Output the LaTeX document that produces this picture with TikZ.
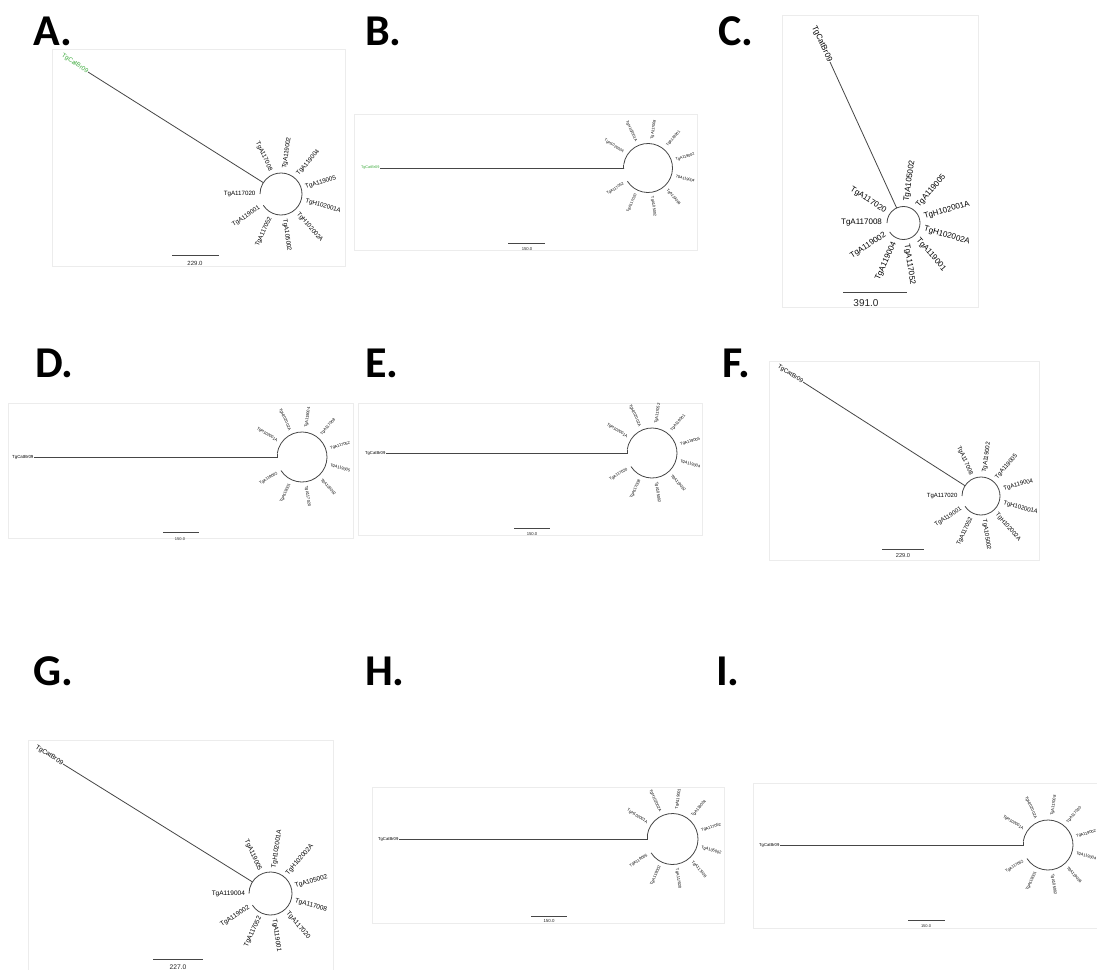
\documentclass[tikz,border=0pt]{standalone}
\usepackage{fontspec}
\setmainfont{Liberation Sans}
\newfontfamily\letterfont{Carlito}
\usetikzlibrary{calc}
\definecolor{ogreen}{RGB}{60,170,60}
\definecolor{framegray}{RGB}{236,236,236}
\definecolor{branchgray}{RGB}{70,70,70}
\tikzset{
  panellabel/.style={anchor=base west, inner sep=0pt, font=\letterfont\bfseries\fontsize{44}{44}\selectfont},
  framebox/.style={draw=framegray, line width=0.6pt},
  branchline/.style={draw=branchgray, line width=0.8pt},
  taxon/.style={inner sep=0.4pt, text=black},
  scaletext/.style={inner sep=0pt, text=black!85},
}
% #1 id, #2 cx, #3 cy, #4 r, #5 theta0, #6 label radius, #7 font size, #8 arc end angle, #9 names
\newcommand{\radtree}[9]{%
  \coordinate (#1c) at (#2,#3);
  \coordinate (#1j) at ($(#1c)+(#5:#4)$);
  \draw[branchline] ($(#1c)+(-147.27:#4)$) arc[start angle=-147.27, end angle=#8, radius=#4];
  \foreach \nm [count=\k] in {#9} {%
    \pgfmathsetmacro\ang{#5-\k*32.727}%
    \pgfmathsetmacro\rot{\ang+180}%
    \pgfmathparse{cos(\ang)<0 ? 1 : 0}%
    \ifnum\pgfmathresult=1
      \node[taxon, font=\fontsize{#7}{#7}\selectfont, anchor=east, rotate=\rot] (#1t\k) at ($(#1c)+(\ang:#6)$) {\nm};
    \else
      \node[taxon, font=\fontsize{#7}{#7}\selectfont, anchor=west, rotate=\ang] (#1t\k) at ($(#1c)+(\ang:#6)$) {\nm};
    \fi
  }%
}
\begin{document}
\begin{tikzpicture}[x=1pt,y=1pt]
\useasboundingbox[fill=white] (0,0) rectangle (1097,-969);

% ---------- panel letters
\node[panellabel] (LA) at (33,-45) {A.};
\node[panellabel] (LB) at (365,-45) {B.};
\node[panellabel] (LC) at (718,-45) {C.};
\node[panellabel] (LD) at (35,-377) {D.};
\node[panellabel] (LE) at (365,-377) {E.};
\node[panellabel] (LF) at (722,-377) {F.};
\node[panellabel] (LG) at (33,-685) {G.};
\node[panellabel] (LH) at (365,-685) {H.};
\node[panellabel] (LI) at (716,-685) {I.};

% ---------- frames
\draw[framebox] (52,-49) rectangle (345,-266);
\draw[framebox] (354,-114) rectangle (697,-250);
\draw[framebox] (782,-15) rectangle (978,-307);
\draw[framebox] (8,-403) rectangle (353,-538);
\draw[framebox] (358,-403) rectangle (702,-535);
\draw[framebox] (769,-361) rectangle (1039,-560);
\draw[framebox] (28,-740) rectangle (333,-975);
\draw[framebox] (372,-787) rectangle (724,-923);
\draw[framebox] (753,-783) rectangle (1100,-928);

% ---------- A
\radtree{A}{281}{-194}{21}{147.27}{25}{6.2}{180}{TgA117008,TgA119002,TgA119004,TgA119005,TgH102001A,TgH102002A,TgA105002,TgA117052,TgA119001,TgA117020}
\coordinate (Atip) at (88,-72);
\node[taxon, text=ogreen, font=\fontsize{6.2}{6.2}\selectfont, anchor=east, rotate=-32.73] (Aog) at (Atip) {TgCatBr09};
\draw[branchline] (Atip) -- (Aj);
\coordinate (Asl) at (172,-255); \coordinate (Asr) at (219,-255);
\draw[branchline] (Asl) -- (Asr);
\node[scaletext, font=\fontsize{6}{6}\selectfont] (Ast) at (195,-263) {229.0};

% ---------- B
\radtree{B}{648}{-168}{24.5}{180}{28.5}{3.8}{172}{TgH102002A,TgH102001A,TgA117008,TgA119001,TgA119002,TgA119004,TgA119005,TgA105002,TgA117020,TgA117052}
\coordinate (Btip) at (380,-168);
\node[taxon, text=ogreen, font=\fontsize{3.8}{3.8}\selectfont, anchor=east] (Bog) at (Btip) {TgCatBr09};
\draw[branchline] (Btip) -- (Bj);
\draw[branchline] ($(Bc)+(172:24.5)$) |- (Bj);
\coordinate (Bsl) at (508,-243); \coordinate (Bsr) at (545,-243);
\draw[branchline] (Bsl) -- (Bsr);
\node[scaletext, font=\fontsize{4.2}{4.2}\selectfont] (Bst) at (527,-249) {150.0};

% ---------- C
\radtree{C}{903.5}{-223}{16.5}{114.55}{21}{8}{180}{TgA105002,TgA119005,TgH102001A,TgH102002A,TgA119001,TgA117052,TgA119004,TgA119002,TgA117008,TgA117020}
\coordinate (Ctip) at (830,-62);
\node[taxon, font=\fontsize{8}{8}\selectfont, anchor=east, rotate=-65.45] (Cog) at (Ctip) {TgCatBr09};
\draw[branchline] (Ctip) -- (Cj);
\coordinate (Csl) at (843,-292); \coordinate (Csr) at (907,-292);
\draw[branchline] (Csl) -- (Csr);
\node[scaletext, font=\fontsize{10}{10}\selectfont] (Cst) at (866,-303) {391.0};

% ---------- D
\radtree{D}{302}{-457}{25}{180}{29}{4}{172}{TgH102001A,TgH102002A,TgA119004,TgA117008,TgA117052,TgA119005,TgA105002,TgA117020,TgA119001,TgA119002}
\coordinate (Dtip) at (34,-457);
\node[taxon, font=\fontsize{4.4}{4.4}\selectfont, anchor=east] (Dog) at (Dtip) {TgCatBr09};
\draw[branchline] (Dtip) -- (Dj);
\draw[branchline] ($(Dc)+(172:25)$) |- (Dj);
\coordinate (Dsl) at (163,-532); \coordinate (Dsr) at (199,-532);
\draw[branchline] (Dsl) -- (Dsr);
\node[scaletext, font=\fontsize{4}{4}\selectfont] (Dst) at (180,-539) {150.0};

% ---------- E
\radtree{E}{652}{-453}{25}{180}{29}{4}{172}{TgH102001A,TgH102002A,TgA117052,TgA119001,TgA119005,TgA119004,TgA119002,TgA105002,TgA117008,TgA117020}
\coordinate (Etip) at (386,-453);
\node[taxon, font=\fontsize{4.2}{4.2}\selectfont, anchor=east] (Eog) at (Etip) {TgCatBr09};
\draw[branchline] (Etip) -- (Ej);
\draw[branchline] ($(Ec)+(172:25)$) |- (Ej);
\coordinate (Esl) at (514,-528); \coordinate (Esr) at (550,-528);
\draw[branchline] (Esl) -- (Esr);
\node[scaletext, font=\fontsize{4.2}{4.2}\selectfont] (Est) at (532,-534) {150.0};

% ---------- F
\radtree{F}{981}{-496}{19}{147.27}{23}{6}{180}{TgA117008,TgA119002,TgA119005,TgA119004,TgH102001A,TgH102002A,TgA105002,TgA117052,TgA119001,TgA117020}
\coordinate (Ftip) at (803,-382);
\node[taxon, font=\fontsize{6}{6}\selectfont, anchor=east, rotate=-32.73] (Fog) at (Ftip) {TgCatBr09};
\draw[branchline] (Ftip) -- (Fj);
\coordinate (Fsl) at (882,-549); \coordinate (Fsr) at (924,-549);
\draw[branchline] (Fsl) -- (Fsr);
\node[scaletext, font=\fontsize{5.7}{5.7}\selectfont] (Fst) at (903,-556) {229.0};

% ---------- G
\radtree{G}{270.5}{-893.5}{21.5}{147.27}{25}{6.5}{180}{TgA119005,TgH102001A,TgH102002A,TgA105002,TgA117008,TgA117020,TgA119001,TgA117052,TgA119002,TgA119004}
\coordinate (Gtip) at (63,-764);
\node[taxon, font=\fontsize{6.5}{6.5}\selectfont, anchor=east, rotate=-32.73] (Gog) at (Gtip) {TgCatBr09};
\draw[branchline] (Gtip) -- (Gj);
\coordinate (Gsl) at (153,-959); \coordinate (Gsr) at (203,-959);
\draw[branchline] (Gsl) -- (Gsr);
\node[scaletext, font=\fontsize{6.7}{6.7}\selectfont] (Gst) at (178,-967) {227.0};

% ---------- H
\radtree{H}{672.5}{-839}{25.5}{180}{29.5}{4}{172}{TgH102001A,TgH102002A,TgA119001,TgA119004,TgA117052,TgA105002,TgA117008,TgA117020,TgA119002,TgA119005}
\coordinate (Htip) at (399,-839);
\node[taxon, font=\fontsize{4.2}{4.2}\selectfont, anchor=east] (Hog) at (Htip) {TgCatBr09};
\draw[branchline] (Htip) -- (Hj);
\draw[branchline] ($(Hc)+(172:25.5)$) |- (Hj);
\coordinate (Hsl) at (531,-916); \coordinate (Hsr) at (567,-916);
\draw[branchline] (Hsl) -- (Hsr);
\node[scaletext, font=\fontsize{4.4}{4.4}\selectfont] (Hst) at (549,-921) {150.0};

% ---------- I
\radtree{I}{1048}{-845}{25}{180}{29}{4}{172}{TgH102001A,TgH102002A,TgA117008,TgA117020,TgA119002,TgA119004,TgA119005,TgA105002,TgA119001,TgA117052}
\coordinate (Itip) at (780,-845);
\node[taxon, font=\fontsize{4.2}{4.2}\selectfont, anchor=east] (Iog) at (Itip) {TgCatBr09};
\draw[branchline] (Itip) -- (Ij);
\draw[branchline] ($(Ic)+(172:25)$) |- (Ij);
\coordinate (Isl) at (908,-920); \coordinate (Isr) at (945,-920);
\draw[branchline] (Isl) -- (Isr);
\node[scaletext, font=\fontsize{4}{4}\selectfont] (Ist) at (926,-926) {150.0};
\end{tikzpicture}
\end{document}
